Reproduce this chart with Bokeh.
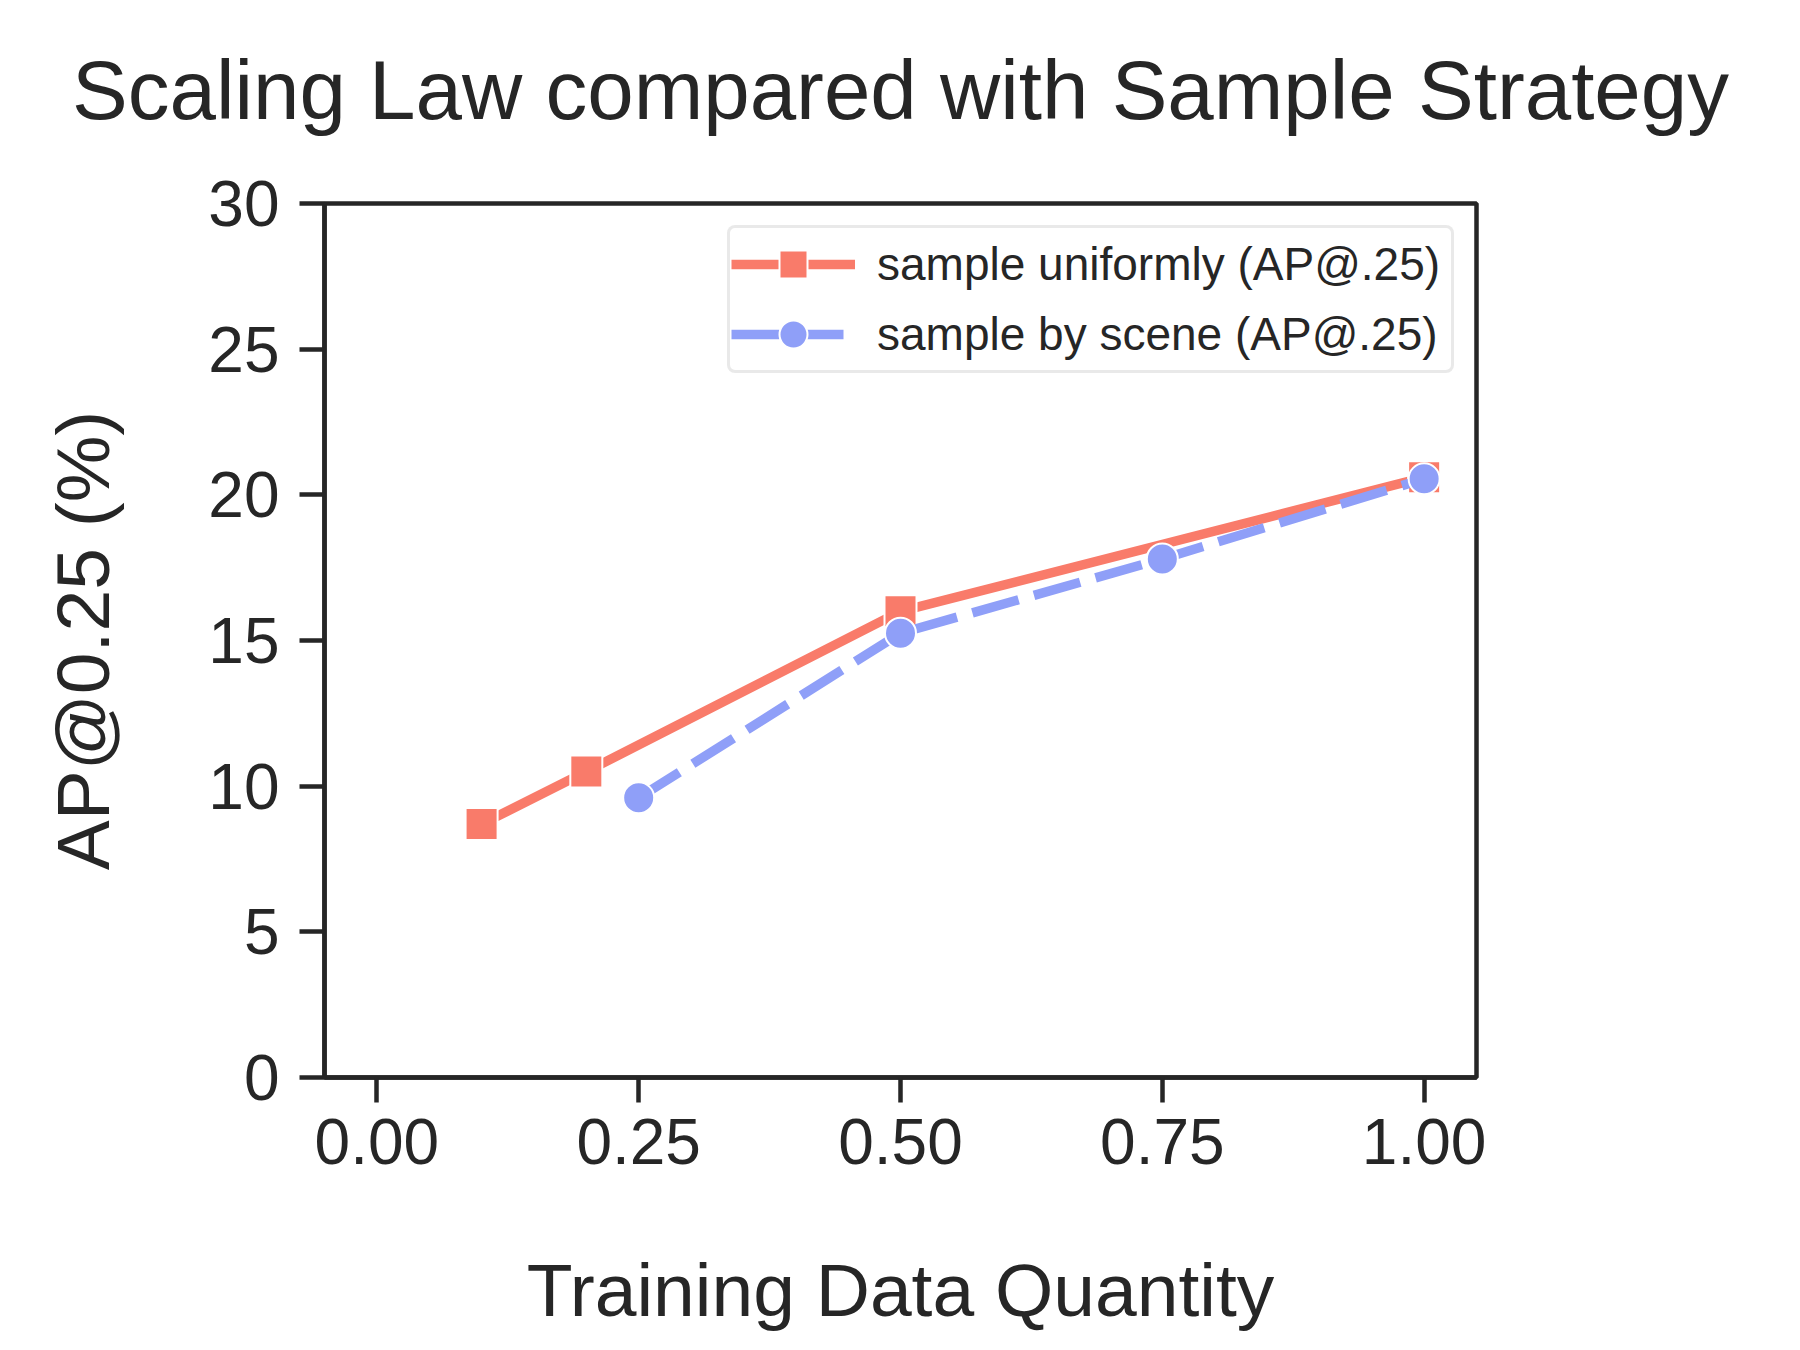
from bokeh.plotting import figure
from bokeh.models import Range1d, FixedTicker, Legend, LegendItem, Label
from bokeh.embed import file_html
from bokeh.resources import INLINE

# ---- data ----
uniform_x = [0.1, 0.2, 0.5, 1.0]
uniform_y = [8.7, 10.5, 16.0, 20.6]
scene_x = [0.25, 0.5, 0.75, 1.0]
scene_y = [9.6, 15.25, 17.8, 20.55]
x_ticks = [0.0, 0.25, 0.5, 0.75, 1.0]
x_tick_labels = ["0.00", "0.25", "0.50", "0.75", "1.00"]
y_ticks = [0, 5, 10, 15, 20, 25, 30]
series_labels = ["sample uniformly (AP@.25)", "sample by scene (AP@.25)"]
title_text = "Scaling Law compared with Sample Strategy"
x_label = "Training Data Quantity"
y_label = "AP@0.25 (%)"

RED = "#F97B6A"
BLUE = "#8F9FF8"
DARK = "#262626"
FONT = "Liberation Sans"

W, H = 1784, 1334
BL, BR, BT, BB = 324, 308, 203, 254
FRAME_W = W - BL - BR

p = figure(width=W, height=H, output_backend="svg", toolbar_location=None,
           x_range=Range1d(-0.05, 1.05), y_range=Range1d(0, 30),
           min_border_left=BL, min_border_right=BR,
           min_border_top=BT, min_border_bottom=BB)
p.background_fill_color = "white"
p.border_fill_color = "white"
p.outline_line_color = DARK
p.outline_line_width = 4.5
p.grid.visible = False

for ax in (p.xaxis[0], p.yaxis[0]):
    ax.axis_line_color = DARK
    ax.axis_line_width = 4.5
    ax.major_tick_line_color = DARK
    ax.major_tick_line_width = 4.5
    ax.major_tick_out = 25
    ax.major_tick_in = 0
    ax.minor_tick_line_color = None
    ax.major_label_text_font = FONT
    ax.major_label_text_font_size = "64px"
    ax.major_label_text_color = DARK
    ax.axis_label_text_font = FONT
    ax.axis_label_text_font_size = "75px"
    ax.axis_label_text_font_style = "normal"
    ax.axis_label_text_color = DARK

p.xaxis[0].ticker = FixedTicker(ticks=x_ticks)
p.xaxis[0].major_label_overrides = {t: l for t, l in zip(x_ticks, x_tick_labels)}
p.xaxis[0].major_label_standoff = 16
p.xaxis[0].axis_label = x_label
p.xaxis[0].axis_label_standoff = 81

p.yaxis[0].ticker = FixedTicker(ticks=y_ticks)
p.yaxis[0].major_label_standoff = 20
p.yaxis[0].axis_label = y_label
p.yaxis[0].axis_label_standoff = 80

# title: a text annotation placed in the panel above the frame
title = Label(x=FRAME_W / 2, y=114, x_units="screen", y_units="screen",
              text=title_text, text_align="center", text_baseline="alphabetic",
              text_font=FONT, text_font_size="83.5px", text_color=DARK)
p.add_layout(title, "above")

r_line = p.line(uniform_x, uniform_y, line_color=RED, line_width=9.5)
r_mark = p.scatter(uniform_x, uniform_y, marker="square", size=32,
                   fill_color=RED, line_color="white", line_width=2)
b_line = p.line(scene_x, scene_y, line_color=BLUE, line_width=9.5, line_dash="48 16")
b_mark = p.scatter(scene_x, scene_y, marker="circle", size=31,
                   fill_color=BLUE, line_color="white", line_width=2)

legend = Legend(items=[
    LegendItem(label=series_labels[0], renderers=[r_line, r_mark]),
    LegendItem(label=series_labels[1], renderers=[b_line, b_mark]),
], location="top_right")
legend.margin = 22
legend.padding = 1
legend.spacing = 0
legend.glyph_width = 124
legend.glyph_height = 70
legend.label_height = 70
legend.label_width = 573
legend.label_standoff = 22
legend.label_text_font = FONT
legend.label_text_font_size = "46px"
legend.label_text_color = DARK
legend.border_line_color = "#D4D4D4"
legend.border_line_width = 3
legend.background_fill_color = "white"
legend.background_fill_alpha = 0.8
try:
    legend.border_radius = 8
except Exception:
    pass
p.add_layout(legend)

open("out.html", "w").write(file_html(p, INLINE))
